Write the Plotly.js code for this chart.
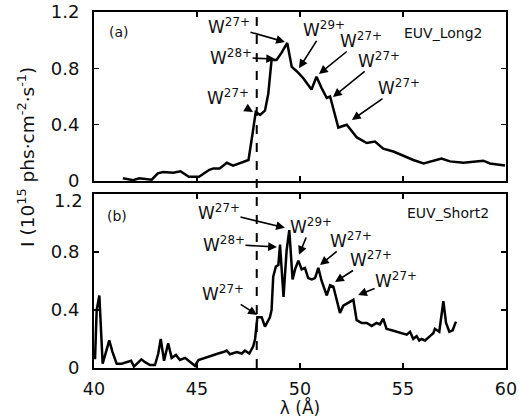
<!DOCTYPE html>
<html>
<head>
<meta charset="utf-8">
<script src="https://cdn.plot.ly/plotly-3.0.1.min.js"></script>
<style>html,body{margin:0;padding:0;background:#fff;}#chart{width:519px;height:418px;}</style>
</head>
<body>
<div id="chart"></div>
<script>
// ---- data: EUV_Long2 (panel a) ----
const lambdaLong = [41.4, 41.9, 42.2, 42.8, 43.1, 43.35, 43.85, 44.2, 44.6, 45.1, 45.6, 45.8, 46.1, 46.45, 46.75, 47.1, 47.5, 47.7, 47.85, 48.06, 48.3, 48.46, 48.62, 48.86, 49.1, 49.38, 49.6, 49.84, 50.16, 50.56, 50.8, 51.05, 51.3, 51.46, 51.86, 52.27, 52.76, 53.24, 53.64, 54.04, 54.53, 55.02, 55.5, 56.0, 56.4, 56.87, 57.28, 57.93, 58.9, 59.22, 59.95];
const intensityLong = [0.02, 0.007, 0.02, 0.01, 0.055, 0.065, 0.06, 0.07, 0.03, 0.03, 0.08, 0.09, 0.09, 0.13, 0.11, 0.13, 0.15, 0.34, 0.49, 0.47, 0.50, 0.62, 0.86, 0.86, 0.91, 0.98, 0.81, 0.78, 0.73, 0.65, 0.74, 0.66, 0.59, 0.60, 0.38, 0.40, 0.31, 0.27, 0.28, 0.23, 0.21, 0.18, 0.15, 0.125, 0.14, 0.16, 0.14, 0.13, 0.145, 0.125, 0.11];

// ---- data: EUV_Short2 (panel b) ----
const lambdaShort = [40.05, 40.13, 40.26, 40.42, 40.58, 40.74, 40.9, 41.1, 41.34, 41.6, 41.8, 41.94, 42.1, 42.3, 42.48, 42.72, 42.96, 43.12, 43.24, 43.4, 43.6, 43.77, 43.98, 44.17, 44.42, 44.66, 44.9, 45.07, 45.39, 45.71, 46.03, 46.28, 46.44, 46.6, 46.93, 47.17, 47.33, 47.54, 47.73, 47.82, 47.93, 48.14, 48.3, 48.54, 48.62, 48.7, 48.83, 48.95, 49.03, 49.2, 49.35, 49.48, 49.64, 49.76, 49.92, 50.08, 50.24, 50.4, 50.57, 50.73, 50.89, 51.05, 51.3, 51.46, 51.62, 51.78, 51.94, 52.1, 52.35, 52.59, 52.75, 53.0, 53.24, 53.48, 53.72, 53.88, 54.04, 54.2, 54.45, 54.69, 55.02, 55.18, 55.34, 55.5, 55.66, 55.79, 55.9, 56.07, 56.31, 56.47, 56.55, 56.76, 56.96, 57.09, 57.25, 57.41, 57.57];
const intensityShort = [0.06, 0.40, 0.50, 0.03, 0.11, 0.19, 0.11, 0.03, 0.03, 0.04, 0.05, 0.01, 0.03, 0.06, 0.04, 0.02, 0.02, 0.10, 0.20, 0.05, 0.17, 0.07, 0.09, 0.055, 0.07, 0.045, 0.015, 0.055, 0.07, 0.09, 0.10, 0.11, 0.12, 0.095, 0.11, 0.10, 0.12, 0.10, 0.15, 0.20, 0.35, 0.35, 0.285, 0.35, 0.40, 0.63, 0.70, 0.71, 0.85, 0.49, 0.81, 0.95, 0.61, 0.68, 0.74, 0.68, 0.69, 0.62, 0.61, 0.62, 0.69, 0.60, 0.50, 0.57, 0.56, 0.47, 0.38, 0.43, 0.45, 0.47, 0.33, 0.31, 0.31, 0.29, 0.31, 0.30, 0.34, 0.27, 0.26, 0.25, 0.24, 0.23, 0.25, 0.20, 0.22, 0.19, 0.20, 0.19, 0.22, 0.24, 0.27, 0.25, 0.46, 0.31, 0.25, 0.26, 0.32];

// ---- axis ticks / labels ----
const xTicks = [40, 45, 50, 55, 60];
const yTicksTop = [0, 0.4, 0.8, 1.2];
const yTickTextTop = ['0', '0.4', '0.8', '1.2'];
const yTicksBottom = [0, 0.4, 0.8];
const yTickTextBottom = ['0', '0.4', '0.8'];
const yTopLabelBottom = '1.2';
const dashLambda = 47.9;

// ---- ion labels: charge, arrow tip (λ, I), label offset from tip (px) ----
const ionsA = ['27+', '28+', '27+', '29+', '27+', '27+', '27+'];
const ionsB = ['27+', '28+', '27+', '29+', '27+', '27+', '27+'];
const tipA = [[49.27, 0.987], [48.79, 0.866], [47.72, 0.49], [49.95, 0.80], [50.92, 0.76], [51.6, 0.597], [52.52, 0.433]];
const tipB = [[49.27, 0.966], [48.88, 0.834], [47.91, 0.366], [49.95, 0.78], [50.97, 0.71], [51.7, 0.593], [52.82, 0.503]];
const offA = [[-56, -16], [-44, -2], [-25, -15], [25, -39], [42, -34], [46, -37], [47, -33]];
const offB = [[-66, -16], [-53, -3], [-34, -22], [12, -29], [31, -25], [36, -23], [38, -15]];

const FONT = 'DejaVu Sans, Arial, sans-serif';

const traces = [
  {x: lambdaLong, y: intensityLong, xaxis: 'x', yaxis: 'y', mode: 'lines', line: {color: '#000', width: 2.5}, name: 'EUV_Long2', showlegend: false},
  {x: lambdaShort, y: intensityShort, xaxis: 'x2', yaxis: 'y2', mode: 'lines', line: {color: '#000', width: 2.5}, name: 'EUV_Short2', showlegend: false}
];

const annotations = [];
function addIons(ions, tip, off, xr, yr) {
  ions.forEach((c, i) => {
    annotations.push({xref: xr, yref: yr, x: tip[i][0], y: tip[i][1], ax: off[i][0], ay: off[i][1],
      text: 'W<sup>' + c + '</sup>', showarrow: true, arrowhead: 2, arrowsize: 1.1, arrowwidth: 1.6, arrowcolor: '#000',
      borderpad: 0, font: {family: FONT, size: 17, color: '#111'}});
  });
}
addIons(ionsA, tipA, offA, 'x', 'y');
addIons(ionsB, tipB, offB, 'x2', 'y2');

annotations.push({xref: 'x', yref: 'y', x: 40.63, y: 1.06, text: '(a)', showarrow: false, xanchor: 'left', yanchor: 'middle', font: {family: FONT, size: 14, color: '#111'}});
annotations.push({xref: 'x', yref: 'y', x: 54.95, y: 1.05, text: 'EUV_Long2', showarrow: false, xanchor: 'left', yanchor: 'middle', font: {family: FONT, size: 14, color: '#111'}});
annotations.push({xref: 'x2', yref: 'y2', x: 40.53, y: 1.045, text: '(b)', showarrow: false, xanchor: 'left', yanchor: 'middle', font: {family: FONT, size: 14, color: '#111'}});
annotations.push({xref: 'x2', yref: 'y2', x: 55.1, y: 1.07, text: 'EUV_Short2', showarrow: false, xanchor: 'left', yanchor: 'middle', font: {family: FONT, size: 14, color: '#111'}});
// top tick label of the lower panel, nudged down as in the original to clear the "0" above it
annotations.push({xref: 'paper', yref: 'y2', x: -0.022, y: 1.2, yshift: -7, text: yTopLabelBottom, showarrow: false,
  xanchor: 'right', yanchor: 'middle', font: {family: FONT, size: 18, color: '#111'}});
annotations.push({xref: 'paper', yref: 'paper', x: -0.165, y: 0.593, xanchor: 'center', yanchor: 'middle', textangle: -90, showarrow: false,
  text: 'I (10<sup>15</sup> phs·cm<sup>-2</sup>·s<sup>-1</sup>)', font: {family: FONT, size: 18.5, color: '#111'}});

const axBase = {
  range: [40, 60], tickvals: xTicks, ticks: 'inside', ticklen: 5, tickwidth: 1.5, tickcolor: '#000',
  showline: true, linewidth: 2, linecolor: '#000', mirror: 'ticks', showgrid: false, zeroline: false,
  tickfont: {family: FONT, size: 17.5, color: '#111'}
};
const ayBase = {
  range: [0, 1.2], ticks: 'inside', ticklen: 5, tickwidth: 1.5, tickcolor: '#000',
  showline: true, linewidth: 2, linecolor: '#000', mirror: 'ticks', showgrid: false, zeroline: false,
  tickfont: {family: FONT, size: 18, color: '#111'}, ticklabelstandoff: 9
};

const layout = {
  width: 519, height: 418,
  margin: {l: 94, r: 13, t: 12, b: 50},
  paper_bgcolor: '#fff', plot_bgcolor: '#fff',
  showlegend: false,
  xaxis: Object.assign({}, axBase, {anchor: 'y', showticklabels: false}),
  xaxis2: Object.assign({}, axBase, {anchor: 'y2', matches: 'x', ticklabelstandoff: 4,
    title: {text: 'λ (Å)', font: {family: FONT, size: 17, color: '#111'}, standoff: 10}}),
  yaxis: Object.assign({}, ayBase, {domain: [0.525, 1], anchor: 'x', tickvals: yTicksTop, ticktext: yTickTextTop}),
  yaxis2: Object.assign({}, ayBase, {domain: [0, 0.489], anchor: 'x2', tickvals: yTicksBottom, ticktext: yTickTextBottom}),
  shapes: [{type: 'line', xref: 'x', yref: 'paper', x0: dashLambda, x1: dashLambda, y0: 0, y1: 1,
    line: {color: '#000', width: 2, dash: 'dash'}}],
  annotations: annotations
};

Plotly.newPlot('chart', traces, layout, {staticPlot: true, displayModeBar: false});
</script>
</body>
</html>
